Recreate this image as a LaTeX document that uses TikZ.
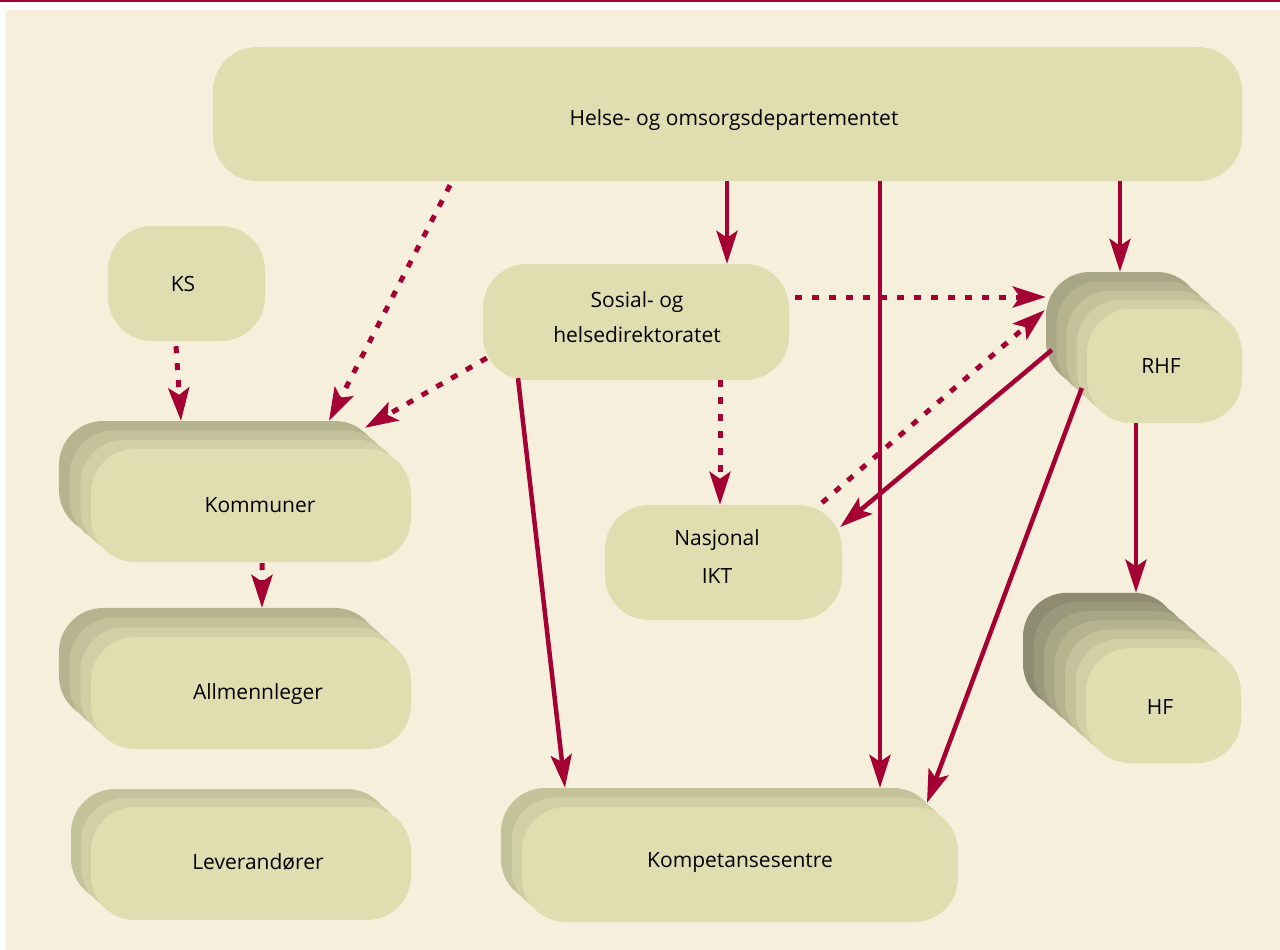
\documentclass[tikz,border=0pt]{standalone}
\usepackage{fontspec}
\setmainfont{Open Sans}
\usetikzlibrary{arrows.meta,calc}
\definecolor{bgcream}{HTML}{F6EFDC}
\definecolor{crim}{HTML}{A50033}
\definecolor{c0}{HTML}{E0DEB0}
\definecolor{c1}{HTML}{D1CFA5}
\definecolor{c2}{HTML}{C4C29A}
\definecolor{c3}{HTML}{B6B48F}
\definecolor{c4}{HTML}{A8A785}
\definecolor{c5}{HTML}{9A997B}
\definecolor{c6}{HTML}{8D8C70}
\begin{document}
\begin{tikzpicture}[x=1pt,y=-1pt,
  layer/.style={rectangle, rounded corners=44pt, inner sep=0pt, draw=none},
  txt/.style={font=\fontsize{21}{35}\selectfont, text=black, align=center, inner sep=0pt},
  link/.style={draw=crim, line width=4.5pt, -{Stealth[length=33pt,width=21pt,inset=7pt]}},
  dlink/.style={draw=crim, line width=5pt, dash pattern=on 7pt off 10pt, -{Stealth[length=33pt,width=21pt,inset=7pt]}}]
\useasboundingbox (0,0) rectangle (1280,950);
\fill[white] (0,0) rectangle (1280,950);
\fill[crim] (0,0) rectangle (1280,1.6);
\fill[bgcream] (6,10) rectangle (1280,950);

% Top ministry
\node[layer, fill=c0, minimum width=1029pt, minimum height=134pt] (hod) at (727.5,114) {};
\node[txt] (hod-t) at (734,120) {Helse- og omsorgsdepartementet};

% KS
\node[layer, fill=c0, minimum width=157pt, minimum height=115pt] (ks) at (186.5,283.5) {};
\node[txt] (ks-t) at (183,284) {KS};

% Sosial- og helsedirektoratet
\node[layer, fill=c0, minimum width=306pt, minimum height=116pt] (sos) at (636,322) {};
\node[txt] (sos-t) at (637,317) {Sosial- og\\helsedirektoratet};

% Nasjonal IKT
\node[layer, fill=c0, minimum width=237pt, minimum height=115pt] (ikt) at (723.5,562.5) {};
\node[txt, font=\fontsize{21}{38}\selectfont] (ikt-t) at (717,557) {Nasjonal\\IKT};

% RHF stack
\foreach \k in {4,3,2,1}
  \node[layer, fill=c\k, minimum width=155pt, minimum height=114pt] (rhf\k) at ($(1164.5,366)+\k*(-10.25,-9.25)$) {};
\node[layer, fill=c0, minimum width=155pt, minimum height=114pt] (rhf) at (1164.5,366) {};
\node[txt] (rhf-t) at (1161,366) {RHF};

% HF stack
\foreach \k in {6,5,4,3,2,1}
  \node[layer, fill=c\k, minimum width=155pt, minimum height=115pt] (hf\k) at ($(1163.5,705.5)+\k*(-10.5,-9.2)$) {};
\node[layer, fill=c0, minimum width=155pt, minimum height=115pt] (hf) at (1163.5,705.5) {};
\node[txt] (hf-t) at (1160,707) {HF};

% Kommuner stack
\foreach \k in {3,2,1}
  \node[layer, fill=c\k, minimum width=320pt, minimum height=113pt] (kom\k) at ($(251,505.5)+\k*(-10.67,-9.33)$) {};
\node[layer, fill=c0, minimum width=320pt, minimum height=113pt] (kom) at (251,505.5) {};
\node[txt] (kom-t) at (260,505) {Kommuner};

% Allmennleger stack
\foreach \k in {3,2,1}
  \node[layer, fill=c\k, minimum width=320pt, minimum height=112pt] (all\k) at ($(251,693)+\k*(-10.67,-9.67)$) {};
\node[layer, fill=c0, minimum width=320pt, minimum height=112pt] (all) at (251,693) {};
\node[txt] (all-t) at (258,694) {Allmennleger};

% Leverandorer stack
\foreach \k in {2,1}
  \node[layer, fill=c\k, minimum width=320pt, minimum height=113pt] (lev\k) at ($(251,863.5)+\k*(-10,-9)$) {};
\node[layer, fill=c0, minimum width=320pt, minimum height=113pt] (lev) at (251,863.5) {};
\node[txt] (lev-t) at (258,862) {Leverandører};

% Kompetansesentre stack
\foreach \k in {2,1}
  \node[layer, fill=c\k, minimum width=436pt, minimum height=115pt] (komp\k) at ($(740,864.5)+\k*(-10.5,-9.5)$) {};
\node[layer, fill=c0, minimum width=436pt, minimum height=115pt] (komp) at (740,864.5) {};
\node[txt] (komp-t) at (740,863) {Kompetansesentre};

% Connectors
\draw[dlink] ([xshift=-277.5pt,yshift=-4pt]hod.south) -- ([xshift=110pt]kom3.north);
\draw[dlink] ([xshift=4pt,yshift=-36pt]sos.west) -- ([xshift=146pt,yshift=-7pt]kom3.north);
\draw[dlink] ([xshift=-10.5pt,yshift=-5pt]ks.south) -- ([xshift=-38pt]kom3.north);
\draw[dlink] ([xshift=11pt,yshift=-1pt]kom.south) -- ([xshift=43pt]all3.north);
\draw[link] ([xshift=-0.5pt]hod.south) -- ([xshift=91pt]sos.north);
\draw[link] ([xshift=152.5pt]hod.south) -- ([xshift=161pt]komp2.north);
\draw[link] ([xshift=392.5pt]hod.south) -- ([xshift=-3.5pt]rhf4.north);
\draw[dlink] ([xshift=6pt,yshift=25pt]sos.east) -- ([yshift=32pt]rhf4.west);
\draw[dlink] ([xshift=84pt]sos.south) -- ([xshift=-3.5pt]ikt.north);
\draw[dlink] ([xshift=98.5pt,yshift=2pt]ikt.north) -- ([xshift=-1pt,yshift=19pt]rhf4.west);
\draw[link] ([xshift=6pt,yshift=-21pt]rhf4.west) -- ([xshift=-2pt,yshift=35.5pt]ikt.east);
\draw[link] ([xshift=-118pt,yshift=2pt]sos.south) -- ([xshift=-154pt]komp2.north);
\draw[link] ([xshift=-5pt,yshift=-22pt]rhf.west) -- ([xshift=208pt,yshift=-15pt]komp2.north);
\draw[link] ([xshift=-28.5pt]rhf.south) -- ([xshift=35.5pt]hf6.north);
\end{tikzpicture}
\end{document}
